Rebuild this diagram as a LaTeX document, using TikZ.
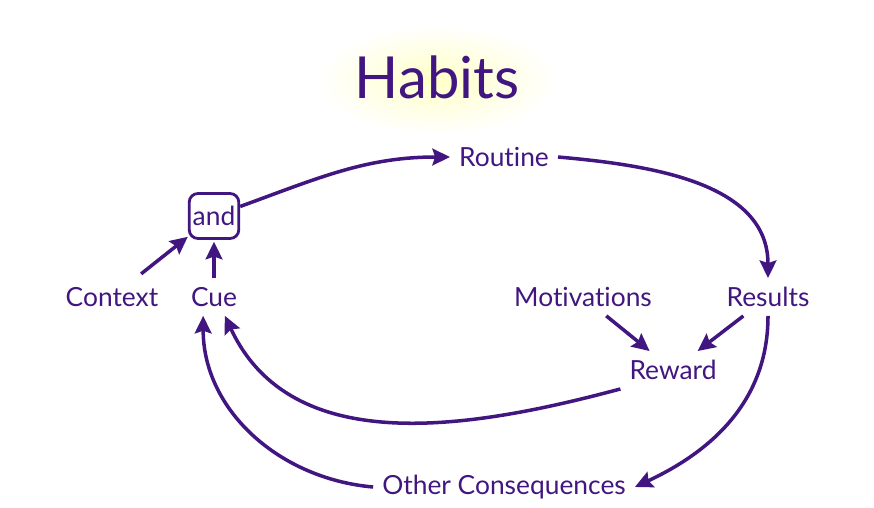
\documentclass[tikz,border=0pt]{standalone}
\usepackage{fontspec}
\setmainfont{Lato}[RawFeature=-liga]
\usepackage{tikz}
\usetikzlibrary{arrows.meta}
\definecolor{habitpurple}{RGB}{66,22,128}
\tikzset{
  lbl/.style={text=habitpurple, font=\fontsize{15}{17}\selectfont, inner sep=5pt},
  andbox/.style={lbl, draw=habitpurple, line width=1.6pt, rounded corners=5pt,
    minimum width=0.98cm, minimum height=0.9cm, inner sep=2pt},
  link/.style={draw=habitpurple, line width=2pt,
    -{Stealth[length=10pt,width=9.5pt,inset=1.5pt]}},
}

\begin{document}
\begin{tikzpicture}[x=0.02cm, y=-0.02cm]
\useasboundingbox (0,0) rectangle (874,507);

%% Title with a soft glow
\shade[inner color=yellow!22, outer color=white] (437,80) ellipse [x radius=120, y radius=55];
\node[text=habitpurple, font=\fontsize{33}{38}\selectfont] (title) at (437,77) {Habits};

%% The loop
\node[andbox] (and) at (214,216) {and};
\node[lbl] (routine) at (504,157) {Routine};
\node[lbl] (context) at (112,297) {Context};
\node[lbl] (cue) at (214,297) {Cue};
\node[lbl] (motiv) at (583,297) {Motivations};
\node[lbl] (results) at (768,297) {Results};
\node[lbl] (reward) at (673,370) {Reward};
\node[lbl] (other) at (504,487) {Other Consequences};

%% Inputs into the trigger
\draw[link, shorten <=4pt] (context) -- (and);
\draw[link, shorten >=1pt] (cue) -- (and);

%% Routine and its results
\draw[link] (and.20) to[out=20, in=180] (routine.west);
\draw[link] (routine.east) to[out=-5, in=90] (results.north);

%% Reward
\draw[link] (motiv) -- (reward);
\draw[link] (results) -- (reward);

%% Feedback to the cue
\draw[link] (reward.south west) to[out=195, in=-65] (cue.-60);
\draw[link] (results.south) to[out=-90, in=25] (other.east);
\draw[link] (other.west) to[out=175, in=-90] (cue.-120);

\end{tikzpicture}
\end{document}
